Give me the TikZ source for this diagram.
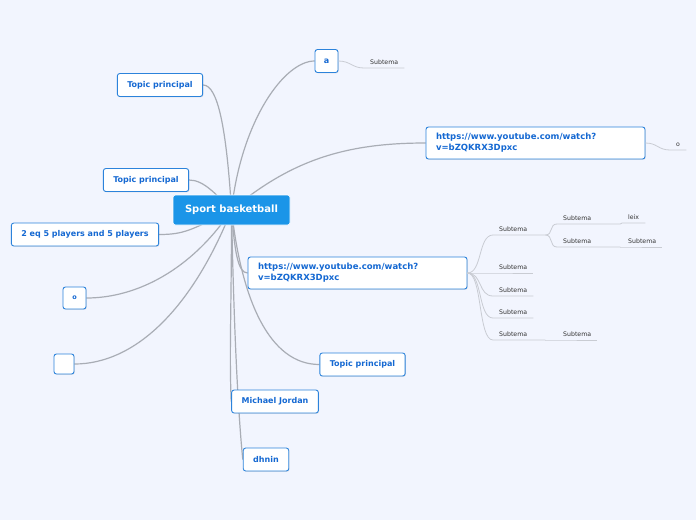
\documentclass[tikz,border=0pt]{standalone}
\usepackage{fontspec}
\setmainfont{DejaVu Sans}
\usepackage{tikz}
\usetikzlibrary{backgrounds,shadows}
\definecolor{bgcol}{HTML}{F2F5FE}
\definecolor{maincol}{HTML}{1B95E8}
\definecolor{topicline}{HTML}{2C83DB}
\definecolor{topictext}{HTML}{1468D2}
\definecolor{branchgray}{HTML}{A9ADB5}
\definecolor{twiggray}{HTML}{C9CCD3}
\definecolor{subtext}{HTML}{333333}
\tikzset{
  central/.style={fill=maincol, draw=white, line width=0.6pt, rounded corners=2.5pt,
    text=white, font=\fontsize{10}{12}\selectfont\bfseries,
    minimum width=117pt, minimum height=30pt},
  topic/.style={draw=topicline, line width=0.9pt, rounded corners=2.5pt, fill=white,
    text=topictext, font=\fontsize{8}{11}\selectfont\bfseries, inner xsep=10pt,
    minimum height=23pt,
    drop shadow={opacity=0.18, shadow xshift=0.8pt, shadow yshift=-0.8pt}},
  urltopic/.style={topic, align=left, text width=199pt, minimum height=32pt,
    font=\fontsize{8.5}{11}\selectfont\bfseries},
  subtema/.style={anchor=south west, inner xsep=6pt, inner ysep=3pt, align=left,
    text width=28pt, text=subtext, font=\fontsize{6.2}{7}\selectfont},
  branch/.style={draw=branchgray, line width=1.2pt},
  twig/.style={draw=twiggray, line width=0.8pt}
}
\begin{document}
\begin{tikzpicture}[x=1pt, y=-1pt]
        \useasboundingbox (0, 0) rectangle (696, 520);
        % main topics
        \node[central] (sb) at (231.5, 210) {Sport basketball};
        \node[topic, minimum width=23pt, inner xsep=3pt] (a) at (326.5, 61) {a};
        \node[topic] (tp1) at (160, 85) {Topic principal};
        \node[urltopic] (url1) at (535.5, 143) {https://www.youtube.com/watch?\\v=bZQKRX3Dpxc};
        \node[topic] (tp2) at (146, 180) {Topic principal};
        \node[topic] (eq) at (85, 234.5) {2 eq 5 players and 5 players};
        \node[urltopic] (url2) at (357.5, 273) {https://www.youtube.com/watch?\\v=bZQKRX3Dpxc};
        \node[topic, minimum width=23pt, minimum height=22pt, inner xsep=3pt,
          font=\fontsize{6.5}{8}\selectfont\bfseries] (o) at (74.5, 298) {o};
        \node[topic, minimum width=20pt, minimum height=20pt, inner sep=0pt] (empty) at (64, 364) {};
        \node[topic] (tp3) at (362.5, 364.5) {Topic principal};
        \node[topic] (mj) at (275, 401.5) {Michael Jordan};
        \node[topic] (dh) at (266, 459.5) {dhnin};
        % subtopics
        \node[subtema] (sa) at (364, 68) {Subtema};
        \node[subtema, text width=4pt] (so) at (670, 150) {o};
        \node[subtema, text width=40pt] (s1) at (493, 235) {Subtema};
        \node[subtema, text width=51pt] (s11) at (557, 224) {Subtema};
        \node[subtema, text width=11pt] (s111) at (622, 223) {leix};
        \node[subtema, text width=51pt] (s12) at (557, 247) {Subtema};
        \node[subtema] (s121) at (622, 247) {Subtema};
        \node[subtema] (s2) at (493, 273) {Subtema};
        \node[subtema] (s3) at (493, 296) {Subtema};
        \node[subtema] (s4) at (493, 318) {Subtema};
        \node[subtema, text width=40pt] (s5) at (493, 340) {Subtema};
        \node[subtema] (s51) at (557, 340) {Subtema};
        % connectors
        \begin{scope}[on background layer]
        \fill[bgcol] (0, 0) rectangle (696, 520);
        \draw[branch] (sb.center) .. controls +(10, -90) and +(-30, 0) .. (a.west);
        \draw[branch] (sb.center) .. controls +(-5, -80) and +(15, 0) .. (tp1.east);
        \draw[branch] (sb.center) .. controls +(60, -50) and +(-80, 0) .. (url1.west);
        \draw[branch] (sb.center) .. controls +(-15, -15) and +(15, 0) .. (tp2.east);
        \draw[branch] (sb.center) .. controls +(-40, 20) and +(25, 0) .. (eq.east);
        \draw[branch] (sb.center) .. controls +(-40, 60) and +(50, 0) .. (o.east);
        \draw[branch] (sb.center) .. controls +(-40, 100) and +(60, 0) .. (empty.east);
        \draw[branch] (sb.center) .. controls +(3, 40) and +(-10, 0) .. (url2.west);
        \draw[branch] (sb.center) .. controls +(10, 90) and +(-50, 0) .. (tp3.west);
        \draw[branch] (sb.center) .. controls +(0, 100) and +(-2, -50) .. (mj.west);
        \draw[branch] (sb.center) .. controls +(3, 150) and +(-3, -30) .. (dh.west);
        \end{scope}
        \draw[twig] (a.east) .. controls +(12, 0) and +(-12, 0) .. (sa.south west) -- (sa.south east);
        \draw[twig] (url1.east) .. controls +(12, 0) and +(-12, 0) .. (so.south west) -- (so.south east);
        \foreach \s in {s1, s2, s3, s4, s5}
          \draw[twig] (url2.east) .. controls +(15, 0) and +(-15, 0) .. (\s.south west) -- (\s.south east);
        \foreach \s in {s11, s12}
          \draw[twig] (s1.south east) .. controls +(8, 0) and +(-8, 0) .. (\s.south west) -- (\s.south east);
        \draw[twig] (s11.south east) -- (s111.south west) -- (s111.south east);
        \draw[twig] (s12.south east) -- (s121.south west) -- (s121.south east);
        \draw[twig] (s5.south east) -- (s51.south west) -- (s51.south east);
      \end{tikzpicture}
\end{document}
